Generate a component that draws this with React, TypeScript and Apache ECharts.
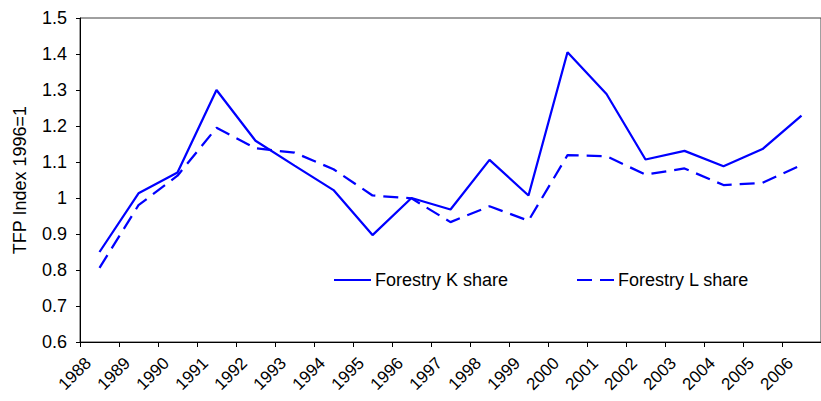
import React, { useEffect, useRef } from "react";
import * as echarts from "echarts";

const years = ["1988", "1989", "1990", "1991", "1992", "1993", "1994", "1995", "1996", "1997", "1998", "1999", "2000", "2001", "2002", "2003", "2004", "2005", "2006"];
const kShare = [0.85, 1.013, 1.071, 1.3, 1.159, 1.09, 1.022, 0.897, 1.0, 0.968, 1.106, 1.007, 1.405, 1.289, 1.107, 1.131, 1.088, 1.136, 1.229];
const lShare = [0.806, 0.98, 1.062, 1.195, 1.138, 1.126, 1.08, 1.007, 0.999, 0.933, 0.977, 0.937, 1.119, 1.116, 1.065, 1.082, 1.036, 1.042, 1.092];
const seriesNames = ["Forestry K share", "Forestry L share"];
const yTitle = "TFP Index 1996=1";

const FONT = "'Liberation Sans', Arial, sans-serif";
const BLUE = "#0000FF";

export default function App() {
  const ref = useRef<HTMLDivElement>(null);
  useEffect(() => {
    if (!ref.current) return;
    const chart = echarts.init(ref.current, undefined, { renderer: "svg" });
    const legendBase = {
      top: 271,
      padding: 0,
      itemWidth: 37,
      itemHeight: 18,
      itemGap: 0,
      itemStyle: { color: "rgba(0,0,0,0)", borderWidth: 0, opacity: 0 },
      textStyle: { fontFamily: FONT, fontSize: 18, color: "#000", padding: [0, 0, 0, -1] },
    };
    chart.setOption({
      animation: false,
      textStyle: { fontFamily: FONT, color: "#000" },
      grid: {
        left: 80,
        top: 18,
        width: 748,
        bottom: 59,
        show: true,
        borderColor: "#404040",
        borderWidth: 1,
        containLabel: false,
      },
      legend: [
        { ...legendBase, data: [seriesNames[0]], left: 333 },
        { ...legendBase, data: [seriesNames[1]], left: 576 },
      ],
      xAxis: {
        type: "category",
        data: years,
        boundaryGap: true,
        axisLine: { show: true, lineStyle: { color: "#000", width: 1 } },
        axisTick: { show: true, length: 5, lineStyle: { color: "#000" } },
        axisLabel: {
          interval: 0,
          rotate: 45,
          fontSize: 17,
          fontFamily: FONT,
          color: "#000",
          margin: 7,
          padding: [0, 16, 0, 0],
        },
        splitLine: { show: false },
      },
      yAxis: {
        type: "value",
        min: 0.6,
        max: 1.5,
        interval: 0.1,
        name: yTitle,
        nameLocation: "middle",
        nameGap: 51,
        nameTextStyle: { fontFamily: FONT, fontSize: 18, color: "#000" },
        axisLine: { show: true, lineStyle: { color: "#000", width: 1 } },
        axisTick: { show: true, length: 4, lineStyle: { color: "#000" } },
        axisLabel: { fontSize: 18, fontFamily: FONT, color: "#000", margin: 13 },
        splitLine: { show: false },
      },
      series: [
        {
          name: seriesNames[0],
          type: "line",
          data: kShare,
          symbol: "none",
          lineStyle: { color: BLUE, width: 2.25, type: "solid" },
          itemStyle: { color: BLUE },
        },
        {
          name: seriesNames[1],
          type: "line",
          data: lShare,
          symbol: "none",
          lineStyle: { color: BLUE, width: 2.25, type: [15, 8] },
          itemStyle: { color: BLUE },
        },
      ],
    });
    return () => chart.dispose();
  }, []);
  return (
    <div
      ref={ref}
      style={{ position: "absolute", left: 0, top: 0, width: 821, height: 401, background: "#fff" }}
    />
  );
}
